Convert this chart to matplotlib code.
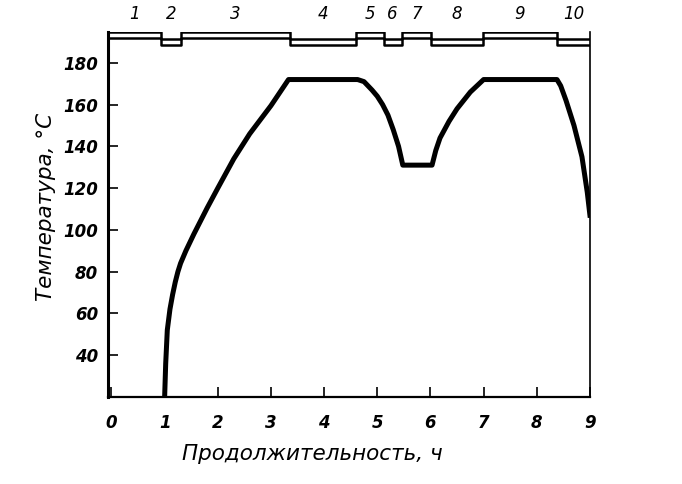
import matplotlib.pyplot as plt

# temperature curve (hours, degrees C)
hours = [1.0, 1.02, 1.05, 1.1, 1.15, 1.2, 1.25, 1.3, 1.4, 1.55, 1.8, 2.0,
         2.3, 2.6, 3.0, 3.33,
         4.63, 4.75, 4.9, 5.0, 5.1, 5.2, 5.3, 5.4, 5.48, 6.03, 6.1, 6.18,
         6.35, 6.5, 6.75, 7.0,
         8.38, 8.45, 8.55, 8.7, 8.85, 8.95, 9.0]
temps = [20, 36, 52, 62, 69, 75, 80, 84, 90, 98, 110.5, 120,
         134, 146, 159.5, 172,
         172, 171, 167, 164, 160, 155, 148, 140, 131, 131, 138, 144,
         152, 158, 166, 172,
         172, 169, 162, 150, 135, 118, 107]

# stages shown in the strip above the plot
stage_names = ["1", "2", "3", "4", "5", "6", "7", "8", "9", "10"]
stage_edges = [-0.07, 0.94, 1.30, 3.35, 4.60, 5.12, 5.46, 6.01, 6.99, 8.38, 9.0]
stage_high = [1, 0, 1, 0, 1, 0, 1, 0, 1, 0]

# strip line levels (upper, lower) for high and low stages
strip_hi = (194.6, 191.9)
strip_lo = (191.3, 188.4)

yticks = [40, 60, 80, 100, 120, 140, 160, 180]
xticks = [0, 1, 2, 3, 4, 5, 6, 7, 8, 9]

fig = plt.figure(figsize=(6.82, 4.84), dpi=100)
ax = fig.add_axes([0.158, 0.180, 0.707, 0.754])

# main curve
ax.plot(hours, temps, color='black', lw=3.6, solid_joinstyle='round')

# stage strip
upper = [strip_hi[0] if h else strip_lo[0] for h in stage_high]
lower = [strip_hi[1] if h else strip_lo[1] for h in stage_high]
ax.step(stage_edges, upper + [upper[-1]], where='post', color='black', lw=1.8)
ax.step(stage_edges, lower + [lower[-1]], where='post', color='black', lw=1.8)

for i, name in enumerate(stage_names):
    mid = (stage_edges[i] + stage_edges[i + 1]) / 2
    ax.text(mid, 203.5, name, ha='center', va='center', fontsize=12,
            style='italic', clip_on=False)

ax.set_xlim(-0.07, 9.0)
ax.set_ylim(20, 194.8)

ax.spines['top'].set_visible(False)
ax.spines['left'].set_linewidth(2.2)
ax.spines['bottom'].set_linewidth(1.6)
ax.spines['right'].set_linewidth(1.2)

ax.set_xticks(xticks)
ax.set_yticks(yticks)
ax.set_xticklabels([str(t) for t in xticks], fontsize=12, style='italic', fontweight='bold')
ax.set_yticklabels([str(t) for t in yticks], fontsize=12, style='italic', fontweight='bold')
ax.tick_params(axis='x', direction='in', length=7, width=1.2, pad=12)
ax.tick_params(axis='y', direction='in', length=7, width=1.2, pad=7)

ax.set_xlabel("Продолжительность, ч", fontsize=15.5, style='italic')
ax.xaxis.set_label_coords(0.425, -0.128)
ax.set_ylabel("Температура, °C", fontsize=15.5, style='italic')
ax.yaxis.set_label_coords(-0.108, 0.52)

plt.savefig("out.png", dpi=100)
